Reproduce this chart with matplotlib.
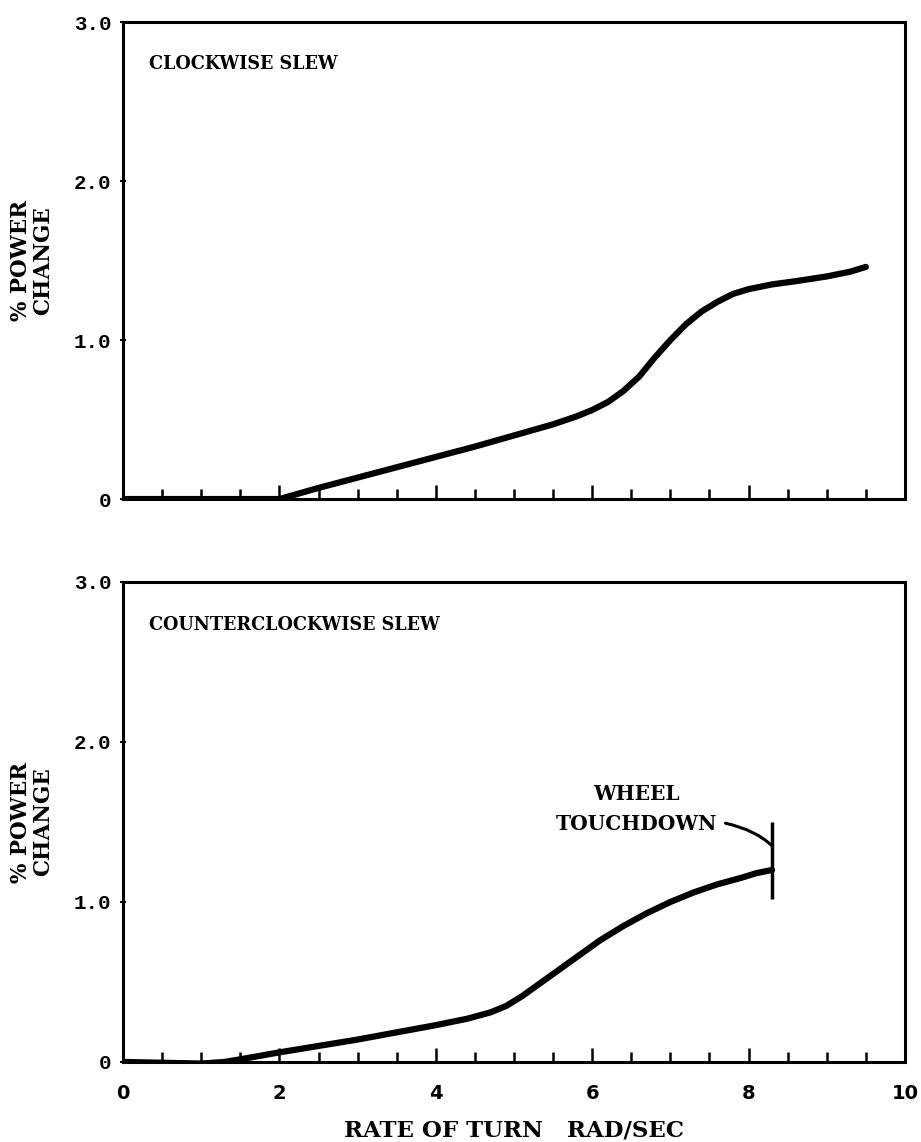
import numpy as np
import matplotlib.pyplot as plt

# clockwise slew
cw_rate = [0, 0.5, 1.0, 1.5, 2.0, 2.5, 3.0, 3.5, 4.0, 4.5, 5.0, 5.5, 5.8, 6.0, 6.2,
           6.4, 6.6, 6.8, 7.0, 7.2, 7.4, 7.6, 7.8, 8.0, 8.3, 8.6, 9.0, 9.3, 9.5]
cw_power = [0, 0, 0, 0, 0, 0.07, 0.135, 0.20, 0.265, 0.33, 0.40, 0.47, 0.52, 0.56, 0.61,
            0.68, 0.77, 0.89, 1.00, 1.10, 1.18, 1.24, 1.29, 1.32, 1.35, 1.37, 1.40, 1.43, 1.46]

# counterclockwise slew
ccw_rate = [0, 0.5, 1.0, 1.3, 1.6, 2.0, 2.5, 3.0, 3.5, 4.0, 4.4, 4.7, 4.9, 5.1, 5.3,
            5.5, 5.7, 5.9, 6.1, 6.4, 6.7, 7.0, 7.3, 7.6, 7.9, 8.1, 8.3]
ccw_power = [0, -0.005, -0.01, 0.0, 0.025, 0.06, 0.10, 0.14, 0.185, 0.23, 0.27, 0.31, 0.35,
             0.41, 0.48, 0.55, 0.62, 0.69, 0.76, 0.85, 0.93, 1.00, 1.06, 1.11, 1.15, 1.18, 1.20]

touchdown_rate = 8.3
touchdown_span = (1.02, 1.50)

yticks = [0, 1, 2, 3]
ytick_labels = ['0', '1.0', '2.0', '3.0']
xticks = [0, 2, 4, 6, 8, 10]

SERIF = ['DejaVu Serif']
MONO = ['Liberation Mono', 'DejaVu Sans Mono']


def style_axes(ax, show_xlabels):
    ax.set_xlim(0, 10)
    ax.set_ylim(0, 3)
    for s in ax.spines.values():
        s.set_linewidth(2.2)
    ax.set_xticks([2, 4, 6, 8])
    ax.set_xticks(np.arange(0.5, 10, 0.5), minor=True)
    ax.tick_params(axis='x', which='major', direction='in', length=10, width=1.8)
    ax.tick_params(axis='x', which='minor', direction='in', length=7, width=1.8)
    ax.set_yticks(yticks)
    ax.set_yticklabels(ytick_labels, family=MONO, fontweight='bold', fontsize=15)
    ax.tick_params(axis='y', which='major', direction='inout', length=5, width=1.5, pad=6)
    ax.set_ylabel('% POWER\nCHANGE', family=SERIF, fontweight='bold', fontsize=15.5,
                  labelpad=14, linespacing=1.0)
    if show_xlabels:
        ax.set_xticks(xticks)
        ax.set_xticklabels([str(v) for v in xticks], fontweight='bold', fontsize=14)
        ax.tick_params(axis='x', which='major', pad=16)
        # ticks at 0 and 10 sit on the spines; hide them
        for t in ax.xaxis.get_major_ticks():
            if t.get_loc() in (0, 10):
                t.tick1line.set_visible(False)
        ax.set_xlabel('RATE OF TURN   RAD/SEC', family=SERIF, fontweight='bold',
                      fontsize=16.5, labelpad=12)
    else:
        ax.set_xticklabels([])


fig = plt.figure(figsize=(9.21, 11.42), dpi=100)
ax1 = fig.add_axes([0.1336, 0.563, 0.849, 0.4177])
ax2 = fig.add_axes([0.1336, 0.0701, 0.849, 0.4203])

ax1.plot(cw_rate, cw_power, color='black', lw=4.5, solid_capstyle='round',
         solid_joinstyle='round')
style_axes(ax1, False)
ax1.text(0.033, 0.93, 'CLOCKWISE SLEW', transform=ax1.transAxes, family=SERIF,
         fontweight='bold', fontsize=12.7, va='top')

ax2.plot(ccw_rate, ccw_power, color='black', lw=4.5, solid_capstyle='round',
         solid_joinstyle='round')
ax2.vlines(touchdown_rate, *touchdown_span, color='black', lw=2.5)
style_axes(ax2, True)
ax2.text(0.033, 0.93, 'COUNTERCLOCKWISE SLEW', transform=ax2.transAxes, family=SERIF,
         fontweight='bold', fontsize=12.7, va='top')
ax2.annotate('WHEEL\nTOUCHDOWN', xy=(touchdown_rate, 1.35), xytext=(7.6, 1.58),
             family=SERIF, fontweight='bold', fontsize=14.5, ha='right', va='center',
             multialignment='center', linespacing=1.6,
             arrowprops=dict(arrowstyle='-', lw=2.2, color='black',
                             connectionstyle='angle3,angleA=-10,angleB=-45',
                             shrinkA=4, shrinkB=0, relpos=(1.0, 0.25)))

fig.savefig('out.png', dpi=100)
